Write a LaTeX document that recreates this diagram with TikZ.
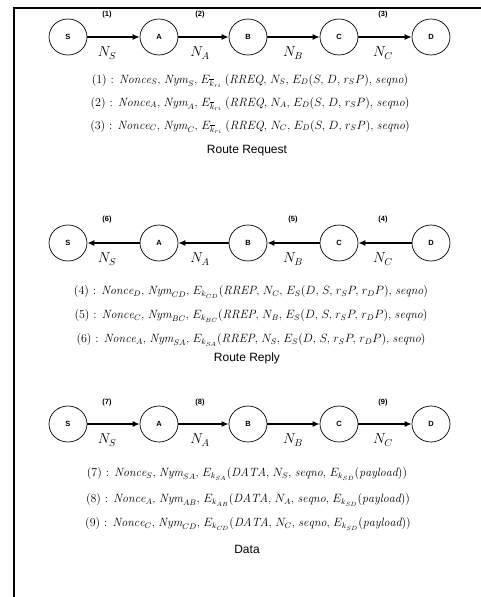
\documentclass[tikz,border=0pt]{standalone}
\usepackage{fontspec}
\newfontfamily\labsans{Liberation Sans}
\usetikzlibrary{shapes.geometric,arrows.meta}
\newcommand{\mNonce}{\mathit{Nonce}}
\newcommand{\mNym}{\mathit{Nym}}
\newcommand{\mSeq}{\mathit{seqno}}
\begin{document}
\begin{tikzpicture}[x=1pt,y=-1pt,
  nd/.style={draw, ellipse, minimum width=38pt, minimum height=36pt, inner sep=0pt, line width=0.7pt, font=\labsans\bfseries\fontsize{7.5}{8}\selectfont},
  lnk/.style={line width=1.6pt, -{Latex[length=7pt,width=6pt]}},
  num/.style={font=\labsans\bfseries\fontsize{7.5}{8}\selectfont},
  nl/.style={font=\fontsize{14}{14}\selectfont},
  fm/.style={font=\fontsize{12}{14}\selectfont, inner sep=0pt, execute at begin node={\thinmuskip=5mu\relax}},
  ttl/.style={font=\labsans\fontsize{12}{12}\selectfont}]
\useasboundingbox (0,0) rectangle (480,597);
\fill[white] (0,0) rectangle (480,597);
\draw[line width=2.5pt] (14,597) -- (14,8) -- (481,8);

% Row 1: Route Request
\node[nd] (S1) at (68,37) {S};
\node[nd] (A1) at (159,37) {A};
\node[nd] (B1) at (248,37) {B};
\node[nd] (C1) at (339,37) {C};
\node[nd] (D1) at (431,37) {D};
\draw[lnk] (S1) -- (A1);
\draw[lnk] (A1) -- (B1);
\draw[lnk] (B1) -- (C1);
\draw[lnk] (C1) -- (D1);
\node[num] (l1) at (107,15) {(1)};
\node[num] (l2) at (200,15) {(2)};
\node[num] (l3) at (383,15) {(3)};
\node[nl] (n1s) at (107,53) {$N_S$};
\node[nl] (n1a) at (200,53) {$N_A$};
\node[nl] (n1b) at (293,53) {$N_B$};
\node[nl] (n1c) at (383,53) {$N_C$};
\node[fm] (f1) at (250,81) {(1) : $\mNonce_S, \mNym_S, E_{\overline{k}_{ri}}\,(\mathit{RREQ}, N_S, E_D(S, D, r_SP), \mSeq)$};
\node[fm] (f2) at (250,104) {(2) : $\mNonce_A, \mNym_A, E_{\overline{k}_{ri}}\,(\mathit{RREQ}, N_A, E_D(S, D, r_SP), \mSeq)$};
\node[fm] (f3) at (250,127) {(3) : $\mNonce_C, \mNym_C, E_{\overline{k}_{ri}}\,(\mathit{RREQ}, N_C, E_D(S, D, r_SP), \mSeq)$};
\node[ttl] (t1) at (247,151) {Route Request};

% Row 2: Route Reply
\node[nd] (S2) at (68,243) {S};
\node[nd] (A2) at (159,243) {A};
\node[nd] (B2) at (248,243) {B};
\node[nd] (C2) at (339,243) {C};
\node[nd] (D2) at (431,243) {D};
\draw[lnk] (A2) -- (S2);
\draw[lnk] (B2) -- (A2);
\draw[lnk] (C2) -- (B2);
\draw[lnk] (D2) -- (C2);
\node[num] (l6) at (107,220) {(6)};
\node[num] (l5) at (293,220) {(5)};
\node[num] (l4) at (383,220) {(4)};
\node[nl] (n2s) at (107,259) {$N_S$};
\node[nl] (n2a) at (200,259) {$N_A$};
\node[nl] (n2b) at (293,259) {$N_B$};
\node[nl] (n2c) at (383,259) {$N_C$};
\node[fm] (f4) at (251,292) {(4) : $\mNonce_D, \mNym_{CD}, E_{k_{CD}}(\mathit{RREP}, N_C, E_S(D, S, r_SP, r_DP), \mSeq)$};
\node[fm] (f5) at (251,316) {(5) : $\mNonce_C, \mNym_{BC}, E_{k_{BC}}(\mathit{RREP}, N_B, E_S(D, S, r_SP, r_DP), \mSeq)$};
\node[fm] (f6) at (251,340) {(6) : $\mNonce_A, \mNym_{SA}, E_{k_{SA}}(\mathit{RREP}, N_S, E_S(D, S, r_SP, r_DP), \mSeq)$};
\node[ttl] (t2) at (247,358) {Route Reply};

% Row 3: Data
\node[nd] (S3) at (68,424) {S};
\node[nd] (A3) at (159,424) {A};
\node[nd] (B3) at (248,424) {B};
\node[nd] (C3) at (339,424) {C};
\node[nd] (D3) at (431,424) {D};
\draw[lnk] (S3) -- (A3);
\draw[lnk] (A3) -- (B3);
\draw[lnk] (B3) -- (C3);
\draw[lnk] (C3) -- (D3);
\node[num] (l7) at (107,403) {(7)};
\node[num] (l8) at (200,403) {(8)};
\node[num] (l9) at (383,403) {(9)};
\node[nl] (n3s) at (107,440) {$N_S$};
\node[nl] (n3a) at (200,440) {$N_A$};
\node[nl] (n3b) at (293,440) {$N_B$};
\node[nl] (n3c) at (383,440) {$N_C$};
\node[fm] (f7) at (247,474) {(7) : $\mNonce_S, \mNym_{SA}, E_{k_{SA}}(\mathit{DATA}, N_S, \mSeq, E_{k_{SD}}(\mathit{payload}))$};
\node[fm] (f8) at (248,500) {(8) : $\mNonce_A, \mNym_{AB}, E_{k_{AB}}(\mathit{DATA}, N_A, \mSeq, E_{k_{SD}}(\mathit{payload}))$};
\node[fm] (f9) at (248,524) {(9) : $\mNonce_C, \mNym_{CD}, E_{k_{CD}}(\mathit{DATA}, N_C, \mSeq, E_{k_{SD}}(\mathit{payload}))$};
\node[ttl] (t3) at (247,549) {Data};
\end{tikzpicture}
\end{document}
